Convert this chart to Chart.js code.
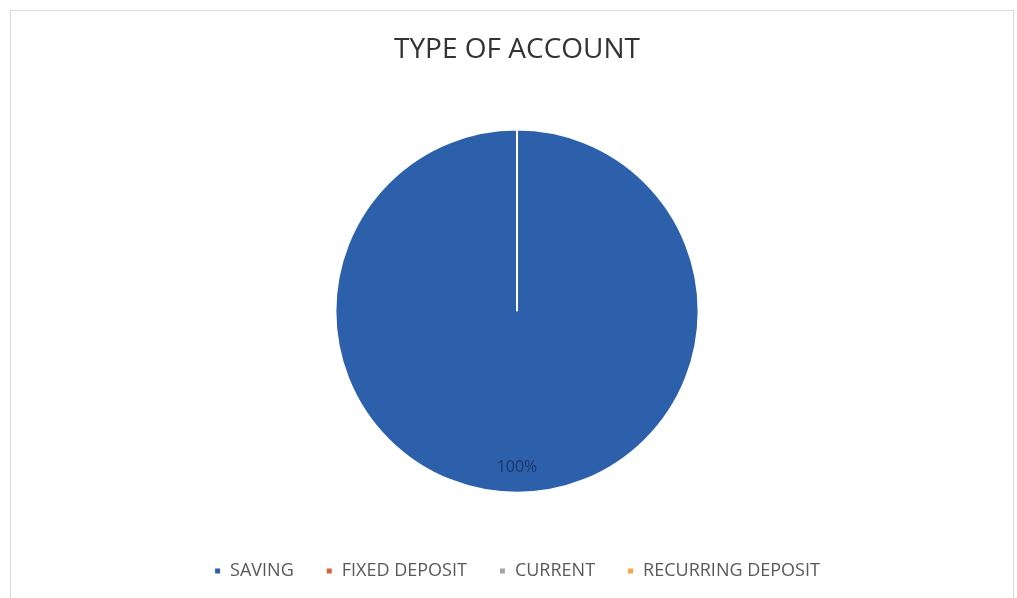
<!DOCTYPE html>
<html>
<head>
<meta charset="utf-8">
<script src="https://cdn.jsdelivr.net/npm/chart.js@4"></script>
<style>
  html, body { margin: 0; padding: 0; background: #fff; }
  #wrap { position: relative; width: 1017px; height: 598px; }
</style>
</head>
<body>
<div id="wrap"><canvas id="graficaCuenta"></canvas></div>
<script>
// datos de la grafica
const tipos = ['SAVING', 'FIXED DEPOSIT', 'CURRENT', 'RECURRING DEPOSIT'];
const valores = [100, 0, 0, 0];
const colores = ['#2d60ab', '#d9623e', '#a3a3a3', '#f2a541'];

// marco gris claro alrededor
const marco = {
    id: 'marco',
    beforeDraw(chart) {
        const c = chart.ctx;
        c.save();
        c.fillStyle = '#fff';
        c.fillRect(0, 0, chart.width, chart.height);
        c.strokeStyle = '#dcdcdc';
        c.lineWidth = 1;
        c.strokeRect(10.5, 10.5, 1003, 600);
        c.restore();
    }
};

// etiqueta de porcentaje dentro del pastel
const etiquetas = {
    id: 'etiquetas',
    afterDatasetsDraw(chart) {
        const c = chart.ctx;
        const total = valores.reduce((a, b) => a + b, 0);
        chart.getDatasetMeta(0).data.forEach((arc, i) => {
            if (!valores[i]) return;
            const p = arc.getProps(['x', 'y', 'startAngle', 'endAngle', 'outerRadius'], true);
            const mid = (p.startAngle + p.endAngle) / 2;
            const r = p.outerRadius * 0.86;
            c.save();
            c.font = '16px "Open Sans"';
            c.fillStyle = '#1c3766';
            c.textAlign = 'center';
            c.textBaseline = 'middle';
            c.fillText(Math.round(valores[i] / total * 100) + '%', p.x + Math.cos(mid) * r, p.y + Math.sin(mid) * r);
            c.restore();
        });
    }
};

const ctx1 = document.getElementById('graficaCuenta');
new Chart(ctx1, {
    type: 'pie',
    data: {
        labels: tipos,
        datasets: [{
            data: valores,
            backgroundColor: colores,
            borderColor: '#ffffff',
            borderWidth: 2
        }]
    },
    options: {
        responsive: true,
        maintainAspectRatio: false,
        animation: false,
        layout: { padding: { left: 17, top: 0, bottom: 8 } },
        plugins: {
            tooltip: { enabled: false },
            title: {
                display: true,
                text: 'TYPE OF ACCOUNT',
                color: '#333333',
                font: { family: '"Open Sans"', size: 28, weight: 'normal' },
                padding: { top: 33, bottom: 62 }
            },
            legend: {
                position: 'bottom',
                title: { display: true, text: ' ', font: { size: 1 }, padding: { top: 0, bottom: 35 } },
                labels: {
                    boxWidth: 7,
                    boxHeight: 7,
                    padding: 32,
                    color: '#595959',
                    font: { family: '"Open Sans"', size: 18 }
                }
            }
        }
    },
    plugins: [marco, etiquetas]
});
</script>
</body>
</html>
